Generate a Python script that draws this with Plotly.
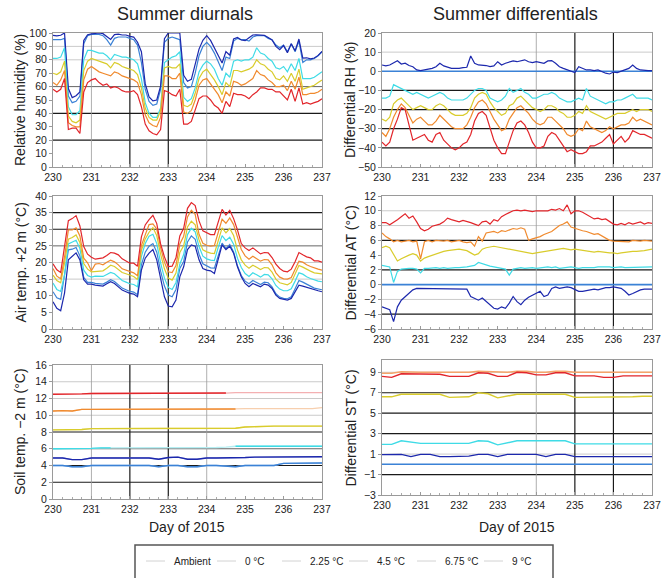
import numpy as np
import plotly.graph_objects as go

# ---------------- data ----------------
day = np.round(np.arange(230.0, 237.0001, 0.1), 1)      # 71 samples
day_soil = np.arange(230.0, 237.0001, 0.25)             # 29 samples

treatments = ["Ambient", "0 °C", "2.25 °C", "4.5 °C", "6.75 °C", "9 °C"]

# ambient relative humidity (%)
rh_amb = [95, 95, 95, 96, 53, 48, 49, 53, 92, 98,
          99, 99, 99, 98, 95, 91, 96, 97, 97, 97,
          96, 95, 91, 78, 58, 49, 46, 47, 58, 93,
          96, 97, 96, 95, 63, 59, 60, 70, 83, 90,
          93, 90, 85, 78, 72, 82, 81, 94, 96, 95,
          95, 94, 97, 98, 98, 98, 96, 95, 91, 89,
          91, 86, 92, 86, 94, 78, 80, 80, 81, 83,
          86]
# differential RH (treatment - ambient)
rh_d0 = [3.3, 2.8, 3.3, 4.2, 5.5, 3.8, 4.2, 3.0, 2.4, 0.7,
         0.3, 0.7, 1.0, 1.5, 2.4, 4.2, 2.8, 2.1, 1.5, 1.5,
         1.5, 1.9, 2.1, 8.0, 4.2, 3.3, 3.3, 3.0, 2.4, 2.8,
         5.0, 3.3, 4.2, 5.0, 5.4, 5.0, 5.4, 6.0, 5.0, 4.5,
         5.0, 4.5, 4.2, 5.4, 5.6, 4.2, 2.4, 1.5, 0.7, -0.2,
         -0.7, 2.4, 1.5, 0.7, 0.7, 0.3, 0.7, -0.2, -1.0, -1.4,
         -0.4, -0.7, 0.0, 0.7, 1.5, 3.3, 1.5, 0.7, 0.3, 0.3,
         0.3]
rh_d225 = [-14, -14, -13, -7, -8, -9, -10, -11, -12, -11,
           -12, -13, -14, -13, -12, -11, -12, -14, -15, -15,
           -15, -15, -14, -12, -10, -9, -9, -10, -14, -15,
           -16, -15, -13, -9, -11, -10, -9, -11, -12, -14,
           -14, -13, -12, -12, -11, -12, -14, -15, -16, -16,
           -15, -14, -15, -9, -13, -14, -15, -16, -17, -16,
           -16, -15, -15, -14, -13, -12, -14, -14, -14, -14,
           -15]
rh_d45 = [-25, -26, -24, -17, -15, -14, -16, -18, -20, -19,
          -18, -19, -20, -20, -18, -17, -18, -20, -22, -23,
          -23, -23, -22, -19, -14, -12, -11, -12, -16, -19,
          -21, -23, -22, -18, -17, -14, -13, -15, -17, -19,
          -20, -21, -20, -18, -18, -19, -21, -22, -24, -24,
          -23, -21, -22, -18, -21, -22, -23, -24, -25, -24,
          -23, -22, -22, -22, -21, -20, -21, -20, -20, -20,
          -21]
rh_d675 = [-32, -34, -30, -24, -20, -17, -19, -23, -27, -25,
           -24, -26, -28, -28, -26, -23, -25, -27, -29, -30,
           -30, -30, -28, -24, -19, -16, -15, -17, -21, -25,
           -28, -31, -30, -25, -22, -19, -18, -20, -22, -25,
           -27, -28, -27, -24, -24, -26, -28, -30, -33, -34,
           -33, -30, -31, -26, -29, -30, -31, -32, -31, -29,
           -30, -29, -28, -28, -27, -24, -26, -25, -26, -27,
           -28]
rh_d9 = [-37, -39, -37, -30, -25, -19, -20, -28, -36, -35,
         -34, -33, -36, -37, -33, -32, -36, -38, -40, -41,
         -40, -38, -37, -33, -26, -22, -21, -23, -30, -36,
         -40, -43, -43, -37, -31, -27, -26, -28, -32, -37,
         -40, -40, -39, -34, -32, -33, -36, -39, -42, -41,
         -42, -43, -43, -42, -39, -39, -38, -37, -35, -33,
         -38, -36, -34, -37, -35, -31, -32, -33, -33, -34,
         -35]

# ambient air temperature +2 m (°C)
at_amb = [11.2, 9.4, 8.9, 15.8, 23.8, 24.0, 24.5, 22.0, 15.5, 14.0,
          14.0, 13.7, 13.7, 13.5, 14.1, 14.8, 14.3, 13.3, 12.3, 11.8,
          11.3, 11.1, 10.3, 19.3, 23.1, 24.9, 25.7, 23.1, 17.4, 12.9,
          10.2, 9.7, 11.9, 18.2, 20.3, 26.2, 28.0, 27.0, 22.5, 19.6,
          18.9, 18.4, 18.3, 22.2, 25.8, 24.2, 25.4, 23.2, 19.0, 16.1,
          14.4, 13.6, 14.6, 14.0, 13.4, 14.1, 13.9, 12.7, 10.6, 9.6,
          9.2, 9.1, 9.7, 12.1, 14.6, 14.1, 13.4, 12.9, 12.3, 12.1,
          11.8]
at_d0 = [-3.0, -3.2, -3.4, -5.0, -3.0, -2.1, -1.6, -1.2, -0.7, -0.5,
         -0.5, -0.5, -0.6, -0.6, -0.5, -0.6, -0.6, -0.5, -0.6, -0.6,
         -0.6, -0.6, -0.6, -1.6, -1.8, -2.1, -1.8, -2.3, -2.7, -3.2,
         -3.3, -3.0, -3.2, -2.5, -1.6, -2.3, -2.7, -2.1, -1.7, -1.4,
         -1.2, -0.9, -1.6, -1.4, -0.5, -0.3, -0.5, -0.4, -0.3, -0.4,
         -0.7, -0.9, -0.9, -0.8, -0.7, -0.6, -0.7, -0.5, -0.4, -0.4,
         -0.3, -0.4, -0.5, -0.9, -1.4, -1.2, -0.9, -0.7, -0.6, -0.6,
         -0.6]
at_d225 = [2.6, 2.5, 2.4, 0.3, 1.8, 2.1, 2.2, 2.2, 2.2, 2.1,
           1.6, 2.2, 2.2, 2.3, 2.3, 2.2, 2.3, 2.2, 2.3, 2.3,
           2.3, 2.3, 2.4, 2.5, 2.6, 3.0, 2.8, 2.6, 2.5, 2.4,
           2.3, 2.2, 2.1, 1.3, 2.1, 2.2, 2.3, 2.2, 2.3, 2.3,
           2.2, 2.3, 2.3, 2.4, 2.3, 2.4, 2.2, 2.3, 2.3, 2.4,
           2.3, 2.2, 2.3, 2.3, 2.2, 2.3, 2.4, 2.4, 2.5, 2.4,
           2.3, 2.4, 2.4, 2.3, 2.3, 2.4, 2.3, 2.3, 2.4, 2.3,
           2.4]
at_d45 = [5.0, 5.2, 5.0, 4.0, 3.2, 3.5, 3.8, 4.0, 4.2, 4.0,
          3.2, 3.6, 3.8, 4.0, 4.2, 4.4, 4.5, 4.6, 4.7, 4.8,
          4.8, 4.7, 4.6, 4.3, 4.0, 4.2, 4.8, 5.0, 5.1, 5.2,
          5.1, 5.0, 4.9, 4.8, 4.7, 4.5, 4.4, 4.3, 4.3, 4.2,
          4.3, 4.4, 4.4, 4.5, 4.6, 4.7, 4.8, 4.9, 4.8, 4.7,
          4.8, 4.7, 4.6, 4.6, 4.5, 4.4, 4.5, 4.4, 4.4, 4.3,
          4.3, 4.2, 4.3, 4.4, 4.5, 4.5, 4.5, 4.5, 4.6, 4.7,
          4.8]
at_d675 = [7.0, 6.5, 6.2, 5.8, 6.0, 5.8, 5.9, 6.0, 5.8, 5.9,
           3.5, 5.8, 6.0, 5.8, 6.0, 5.9, 5.9, 6.0, 5.8, 5.9,
           6.0, 5.8, 5.7, 5.8, 5.2, 6.5, 5.9, 7.0, 7.1, 7.2,
           7.0, 7.3, 7.2, 7.4, 7.6, 7.5, 7.7, 7.5, 6.0, 6.2,
           6.3, 6.5, 6.8, 7.0, 7.2, 7.6, 8.0, 8.2, 8.5, 7.8,
           7.6, 7.4, 7.3, 7.2, 7.0, 6.8, 6.9, 6.6, 6.3, 6.0,
           5.9, 5.9, 5.8, 5.9, 5.8, 6.0, 5.9, 5.9, 6.0, 5.9,
           5.9]
at_d9 = [8.4, 8.4, 8.1, 8.4, 8.8, 9.2, 9.6, 9.0, 9.3, 8.5,
         7.6, 7.3, 7.5, 7.9, 8.0, 8.2, 8.5, 9.0, 8.8, 8.6,
         8.5, 8.7, 8.6, 8.4, 8.2, 8.0, 8.5, 8.6, 8.2, 8.8,
         8.6, 9.2, 9.5, 9.8, 10.0, 10.1, 10.0, 10.1, 10.0, 9.9,
         10.0, 10.0, 10.1, 10.0, 10.2, 10.1, 10.3, 10.0, 10.8, 9.6,
         10.0, 10.0, 9.8, 9.5, 9.2, 8.9, 9.0, 8.8, 8.9, 8.6,
         8.2, 8.1, 8.3, 8.1, 8.4, 8.2, 8.3, 8.5, 8.2, 8.4,
         8.3]

# soil temperature -2 m (°C)
soil_amb = [4.0, 4.0, 3.85, 3.85, 4.0, 4.0, 4.0, 4.0, 4.0, 4.0, 4.0, 3.85, 4.0, 4.0, 3.85,
            3.85, 4.0, 4.0, 3.9, 3.85, 4.0, 4.0, 4.0, 4.0, 4.25, 4.25, 4.3, 4.3, 4.3]
soil_0 = [4.9, 4.9, 4.7, 4.7, 4.9, 4.9, 4.9, 4.9, 4.9, 4.9, 4.9, 4.75, 4.95, 5.0, 4.75,
          4.75, 4.9, 4.9, 4.9, 4.9, 4.95, 5.0, 5.0, 5.0, 5.0, 5.05, 5.05, 5.05, 5.05]
soil_225 = [6.0, 6.0, 6.0, 6.05, 6.05, 6.1, 6.1, 6.1, 6.1, 6.1, 6.1, 6.1, 6.1, 6.1, 6.1,
            6.1, 6.1, 6.15, 6.2, 6.3, 6.3, 6.3, 6.3, 6.3, 6.3, 6.3, 6.3, 6.3, 6.3]
soil_45 = [8.25, 8.25, 8.25, 8.3, 8.4, 8.4, 8.4, 8.4, 8.4, 8.4, 8.4, 8.4, 8.4, 8.4, 8.4,
           8.4, 8.4, 8.4, 8.4, 8.45, 8.6, 8.65, 8.65, 8.7, 8.7, 8.7, 8.7, 8.7, 8.7]
soil_675 = [10.5, 10.55, 10.5, 10.7, 10.7, 10.7, 10.7, 10.7, 10.7, 10.7, 10.7, 10.7, 10.7, 10.7, 10.7,
            10.7, 10.7, 10.7, 10.7, 10.75, 10.8, 10.8, 10.8, 10.8, 10.8, 10.8, 10.8, 10.8, 10.9]
soil_9 = [12.5, 12.5, 12.5, 12.55, 12.6, 12.6, 12.6, 12.6, 12.6, 12.6, 12.6, 12.6, 12.6, 12.6, 12.6,
          12.6, 12.6, 12.6, 12.65, 12.7, 12.7, 12.7, 12.7, 12.7, 12.7, 12.7, 12.7, 12.7, 12.7]

# differential soil temperature (°C), as drawn
dst_navy = [0.95, 0.97, 0.97, 0.75, 0.97, 0.97, 0.75, 0.75, 0.75, 0.8, 0.97, 0.97, 0.75, 0.97, 0.97,
            0.97, 0.97, 0.75, 0.97, 0.97, 0.75, 0.75, 0.75, 0.75, 0.75, 0.75, 0.75, 0.75, 0.75]
dst_cyan = [1.95, 1.95, 2.3, 2.2, 2.05, 2.05, 2.05, 2.05, 2.05, 2.05, 2.3, 2.25, 1.9, 2.1, 2.3,
            2.3, 2.3, 2.3, 2.3, 2.3, 2.0, 2.0, 2.0, 2.0, 2.0, 2.0, 2.0, 2.0, 2.0]
dst_yellow = [6.6, 6.6, 6.85, 6.85, 6.85, 6.85, 6.85, 6.55, 6.55, 6.6, 7.0, 6.9, 6.5, 6.7, 6.85,
              6.85, 6.85, 6.85, 6.85, 6.85, 6.55, 6.55, 6.55, 6.55, 6.55, 6.55, 6.6, 6.65, 6.65]
dst_orange = [8.9, 8.9, 9.05, 9.0, 9.0, 9.0, 9.0, 9.0, 9.0, 9.0, 9.1, 9.05, 9.0, 9.0, 9.1,
              9.1, 9.0, 9.0, 9.1, 9.1, 9.0, 9.0, 9.0, 9.0, 9.0, 9.0, 9.0, 9.0, 9.0]
dst_red = [8.6, 8.5, 8.85, 8.85, 8.8, 8.8, 8.8, 8.6, 8.6, 8.6, 8.95, 8.9, 8.6, 8.6, 9.0,
           8.95, 8.75, 8.75, 8.95, 8.95, 8.65, 8.65, 8.65, 8.5, 8.5, 8.65, 8.65, 8.65, 8.65]

# ---------------- style ----------------
COLORS = ["#3b82d6", "#1c28ad", "#3fdbe6", "#d9cc2c", "#f08a2e", "#e2262b"]
FADED = ["#a9c8ee", "#9ea4dc", "#b5eef2", "#ede6a6", "#f7cfae", "#f4b0b2"]
FONT = "Liberation Sans, Arial, Helvetica, sans-serif"
W, H = 667, 578

def px_x(a, b):
    return [a / W, b / W]

def px_y(top, bottom):
    return [1 - bottom / H, 1 - top / H]

XL, XR = px_x(53, 322), px_x(382, 652)
domains = {
    1: (XL, px_y(33, 167)), 2: (XR, px_y(33, 167)),
    3: (XL, px_y(196, 329)), 4: (XR, px_y(196, 329)),
    5: (XL, px_y(365, 499)), 6: (XR, px_y(360, 495)),
}
yranges = {1: [0, 100], 2: [-50, 20], 3: [0, 40], 4: [-6, 12], 5: [0, 16], 6: [-3, 10.2]}
ytickvals = {1: list(range(0, 101, 10)), 2: list(range(-50, 21, 10)), 3: list(range(0, 41, 5)),
             4: list(range(-6, 13, 2)), 5: list(range(0, 17, 2)), 6: [-3, -1, 1, 3, 5, 7, 9]}
ytitles = {1: "Relative humidity (%)", 2: "Differential RH (%)", 3: "Air temp. +2 m (°C)",
           4: "Differential AT (°C)", 5: "Soil temp. −2 m (°C)", 6: "Differential ST (°C)"}
grid = {
    1: dict(dark_y=[20, 40], mid_y=[60], light_y=[80, 90], dark_x=[232, 233], light_x=[231, 234]),
    2: dict(dark_y=[-10, -20, -30, -40], mid_y=[], light_y=[10], dark_x=[235, 236], light_x=[234]),
    3: dict(dark_y=[30, 35], mid_y=[25], light_y=[15, 20], dark_x=[232, 233], light_x=[231, 234]),
    4: dict(dark_y=[6, 2, -4], mid_y=[], light_y=[8, 10, -2], dark_x=[235, 236], light_x=[234]),
    5: dict(dark_y=[2, 4, 8], mid_y=[6], light_y=[10, 12, 14], dark_x=[232, 233], light_x=[231, 234]),
    6: dict(dark_y=[7, 5, 3, -1], mid_y=[], light_y=[9, 1], dark_x=[235, 236], light_x=[234]),
}
# day ranges where the soil traces are drawn in full colour (elsewhere faded)
soil_strong = {0: [(230, 237)], 1: [(230, 237)], 2: [(230, 231.6), (234.6, 237)],
               3: [(230, 237)], 4: [(230, 234.8)], 5: [(230, 234.5)]}

def ax(p):
    return ("x", "y") if p == 1 else (f"x{p}", f"y{p}")

fig = go.Figure()

def add(p, x, y, color, width=1.2):
    xa, ya = ax(p)
    fig.add_trace(go.Scatter(x=x, y=y, mode="lines", xaxis=xa, yaxis=ya,
                             line=dict(color=color, width=width), showlegend=False,
                             hoverinfo="skip"))

amb = np.array(rh_amb, dtype=float)
rh_diffs = [rh_d0, rh_d225, rh_d45, rh_d675, rh_d9]
at_amb_a = np.array(at_amb, dtype=float)
at_diffs = [at_d0, at_d225, at_d45, at_d675, at_d9]
zero = np.zeros_like(day)

# Panel 1: RH diurnals
add(1, day, amb, COLORS[0])
for c, d in zip(COLORS[1:], rh_diffs):
    add(1, day, np.minimum(amb + np.array(d), 100), c)
# Panel 2: RH differentials
add(2, day, zero, COLORS[0], 1.6)
for c, d in zip(COLORS[1:], rh_diffs):
    add(2, day, d, c)
# Panel 3: AT diurnals
add(3, day, at_amb_a, COLORS[0])
for c, d in zip(COLORS[1:], at_diffs):
    add(3, day, at_amb_a + np.array(d), c)
# Panel 4: AT differentials
add(4, day, zero, COLORS[0], 1.6)
for c, d in zip(COLORS[1:], at_diffs):
    add(4, day, d, c)
# Panel 5: soil temperatures (faded full line, strong segments on top)
soil_series = [soil_amb, soil_0, soil_225, soil_45, soil_675, soil_9]
for i, s in enumerate(soil_series):
    s = np.array(s, dtype=float)
    add(5, day_soil, s, FADED[i], 1.3)
    for a, b in soil_strong[i]:
        m = (day_soil >= a - 1e-9) & (day_soil <= b + 1e-9)
        add(5, day_soil[m], s[m], COLORS[i], 1.4)
# Panel 6: soil differentials
add(6, day_soil, np.zeros_like(day_soil), COLORS[0], 1.5)
for c, s in zip([COLORS[1], COLORS[2], COLORS[3], "#f5a46a", COLORS[5]],
                [dst_navy, dst_cyan, dst_yellow, dst_orange, dst_red]):
    add(6, day_soil, s, c, 1.4)

layout = dict(width=W, height=H, margin=dict(l=0, r=0, t=0, b=0),
              paper_bgcolor="white", plot_bgcolor="white",
              font=dict(family=FONT, color="#222"), showlegend=False)

shapes = []
annotations = []
for p in range(1, 7):
    xa, ya = ax(p)
    xd, yd = domains[p]
    xkey = "xaxis" if p == 1 else f"xaxis{p}"
    ykey = "yaxis" if p == 1 else f"yaxis{p}"
    layout[xkey] = dict(domain=xd, anchor=ya, range=[230, 237], tickvals=list(range(230, 238)),
                        showgrid=False, zeroline=False, showline=True, linecolor="#9a9a9a",
                        linewidth=1, mirror=True, ticks="inside", ticklen=3, tickcolor="#9a9a9a",
                        tickfont=dict(size=10.5, color="#222"), automargin=False,
                        ticklabelstandoff=0,
                        minor=dict(dtick=0.25, tick0=230, ticks="inside", ticklen=2,
                                   tickcolor="#aaaaaa", showgrid=False))
    layout[ykey] = dict(domain=yd, anchor=xa, range=yranges[p], tickvals=ytickvals[p],
                        showgrid=False, zeroline=False, showline=True, linecolor="#9a9a9a",
                        linewidth=1, mirror=True, ticks="outside", ticklen=3, tickcolor="#9a9a9a",
                        tickfont=dict(size=10.5, color="#222"), automargin=False)
    g = grid[p]
    for v, col, w in ([(v, "#1a1a1a", 1.2) for v in g["dark_y"]] +
                      [(v, "#666666", 1.0) for v in g["mid_y"]] +
                      [(v, "#bdbdbd", 0.8) for v in g["light_y"]]):
        shapes.append(dict(type="line", xref=f"{xa} domain", x0=0, x1=1, yref=ya, y0=v, y1=v,
                           line=dict(color=col, width=w), layer="below"))
    for v, col, w in ([(v, "#1a1a1a", 1.2) for v in g["dark_x"]] +
                      [(v, "#9a9a9a", 0.8) for v in g["light_x"]]):
        shapes.append(dict(type="line", yref=f"{ya} domain", y0=0, y1=1, xref=xa, x0=v, x1=v,
                           line=dict(color=col, width=w), layer="below"))
    annotations.append(dict(text=ytitles[p], textangle=-90, xref="paper", yref="paper",
                            x=(20 if p % 2 == 1 else 350) / W, y=(yd[0] + yd[1]) / 2,
                            xanchor="center", yanchor="middle", showarrow=False,
                            font=dict(size=14, color="#222", family=FONT)))

annotations += [
    dict(text="Summer diurnals", x=185 / W, y=1 - 14 / H, xref="paper", yref="paper",
         showarrow=False, xanchor="center", yanchor="middle", font=dict(size=18, family=FONT)),
    dict(text="Summer differentials", x=515 / W, y=1 - 14 / H, xref="paper", yref="paper",
         showarrow=False, xanchor="center", yanchor="middle", font=dict(size=18, family=FONT)),
    dict(text="Day of 2015", x=187 / W, y=1 - 527 / H, xref="paper", yref="paper",
         showarrow=False, xanchor="center", yanchor="middle", font=dict(size=14, family=FONT)),
    dict(text="Day of 2015", x=517 / W, y=1 - 527 / H, xref="paper", yref="paper",
         showarrow=False, xanchor="center", yanchor="middle", font=dict(size=14, family=FONT)),
]

# legend box drawn by hand (box runs off the bottom of the page)
legend_text_x = [172, 243, 308, 375, 443, 510]
shapes.append(dict(type="rect", xref="paper", yref="paper", x0=135 / W, x1=553 / W,
                   y0=1 - 600 / H, y1=1 - 545 / H, line=dict(color="#555555", width=1.5),
                   fillcolor="rgba(0,0,0,0)", layer="above"))
for name, tx in zip(treatments, legend_text_x):
    shapes.append(dict(type="line", xref="paper", yref="paper", x0=(tx - 26) / W, x1=(tx - 7) / W,
                       y0=1 - 561 / H, y1=1 - 561 / H, line=dict(color="#d2d2d2", width=1)))
    annotations.append(dict(text=name, x=tx / W, y=1 - 561 / H, xref="paper", yref="paper",
                            showarrow=False, xanchor="left", yanchor="middle",
                            font=dict(size=10, color="#222", family=FONT)))

layout["shapes"] = shapes
layout["annotations"] = annotations
fig.update_layout(**layout)
fig.write_html("out.html")
